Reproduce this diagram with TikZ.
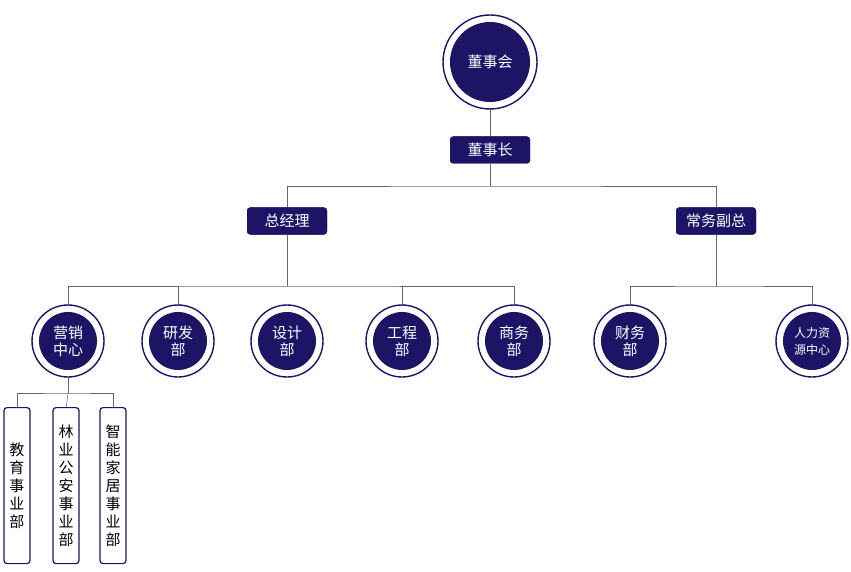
\documentclass[tikz,border=0pt]{standalone}
\usepackage{fontspec}
\newfontfamily\cjk{Noto Sans CJK SC}
\usetikzlibrary{positioning}
\definecolor{navy}{HTML}{1E1466}
\tikzset{
    ring/.style={circle,fill=navy,text=white,inner sep=0pt,align=center,
        font=\cjk\fontsize{15}{17}\selectfont},
    post/.style={rectangle,rounded corners=3pt,fill=navy,text=white,minimum width=80pt,
        minimum height=27pt,font=\cjk\fontsize{15}{17}\selectfont},
    unit/.style={rectangle,rounded corners=3pt,draw=navy,line width=1.2pt,fill=white,
        minimum width=26pt,minimum height=156pt,anchor=north,align=center,
        text width=18pt,font=\cjk\fontsize{15}{18}\selectfont},
    link/.style={draw=gray!80!black,line width=0.5pt}
}
\newcommand{\ringnode}[4]{%
    \draw[navy,line width=1.4pt,fill=white] (#2) circle (#4);
    \node[ring,minimum size=2*#4-14pt] (#1) at (#2) {#3};}
\begin{document}
\begin{tikzpicture}[x=1pt,y=-1pt]
    \useasboundingbox (0,0) rectangle (851,572);

    \coordinate (cDsh) at (490,62);
    \node[post] (dsz) at (490,150) {董事长};
    \node[post] (zjl) at (287,221) {总经理};
    \node[post] (cwfz) at (716,221) {常务副总};

    % connectors
    \draw[link] (cDsh) -- (dsz);
    \draw[link] (dsz) -- ++(0,36) coordinate (bTop);
    \draw[link] (zjl) |- (bTop) -| (cwfz);
    \draw[link] (zjl) -- (287,286) coordinate (bMid);
    \draw[link] (68,341) |- (bMid) -| (514,341);
    \foreach \x in {178,402} \draw[link] (\x,341) -- (\x,286);
    \draw[link] (cwfz) -- (716,286) coordinate (bRight);
    \draw[link] (630,341) |- (bRight) -| (812,341);
    \draw[link] (68,341) -- (68,393) coordinate (bSub);
    \draw[link] (17,410) |- (bSub) -| (113,410);
    \draw[link] (66,410) -- (bSub);

    \node[post] at (490,150) {董事长};
    \node[post] at (287,221) {总经理};
    \node[post] at (716,221) {常务副总};

    \ringnode{dsh}{cDsh}{董事会}{47pt}
    \ringnode{yxzx}{68,341}{营销\\中心}{36pt}
    \ringnode{yfb}{178,341}{研发\\部}{36pt}
    \ringnode{sjb}{287,341}{设计\\部}{36pt}
    \ringnode{gcb}{402,341}{工程\\部}{36pt}
    \ringnode{swb}{514,341}{商务\\部}{36pt}
    \ringnode{cwb}{630,341}{财务\\部}{36pt}
    \ringnode{rlzy}{812,341}{\fontsize{12}{15}\selectfont 人力资\\\fontsize{12}{15}\selectfont 源中心}{36pt}

    \node[unit] (jy) at (17,407) {教\\育\\事\\业\\部};
    \node[unit] (lyga) at (66,407) {林\\业\\公\\安\\事\\业\\部};
    \node[unit] (znjj) at (113,407) {智\\能\\家\\居\\事\\业\\部};
\end{tikzpicture}
\end{document}
